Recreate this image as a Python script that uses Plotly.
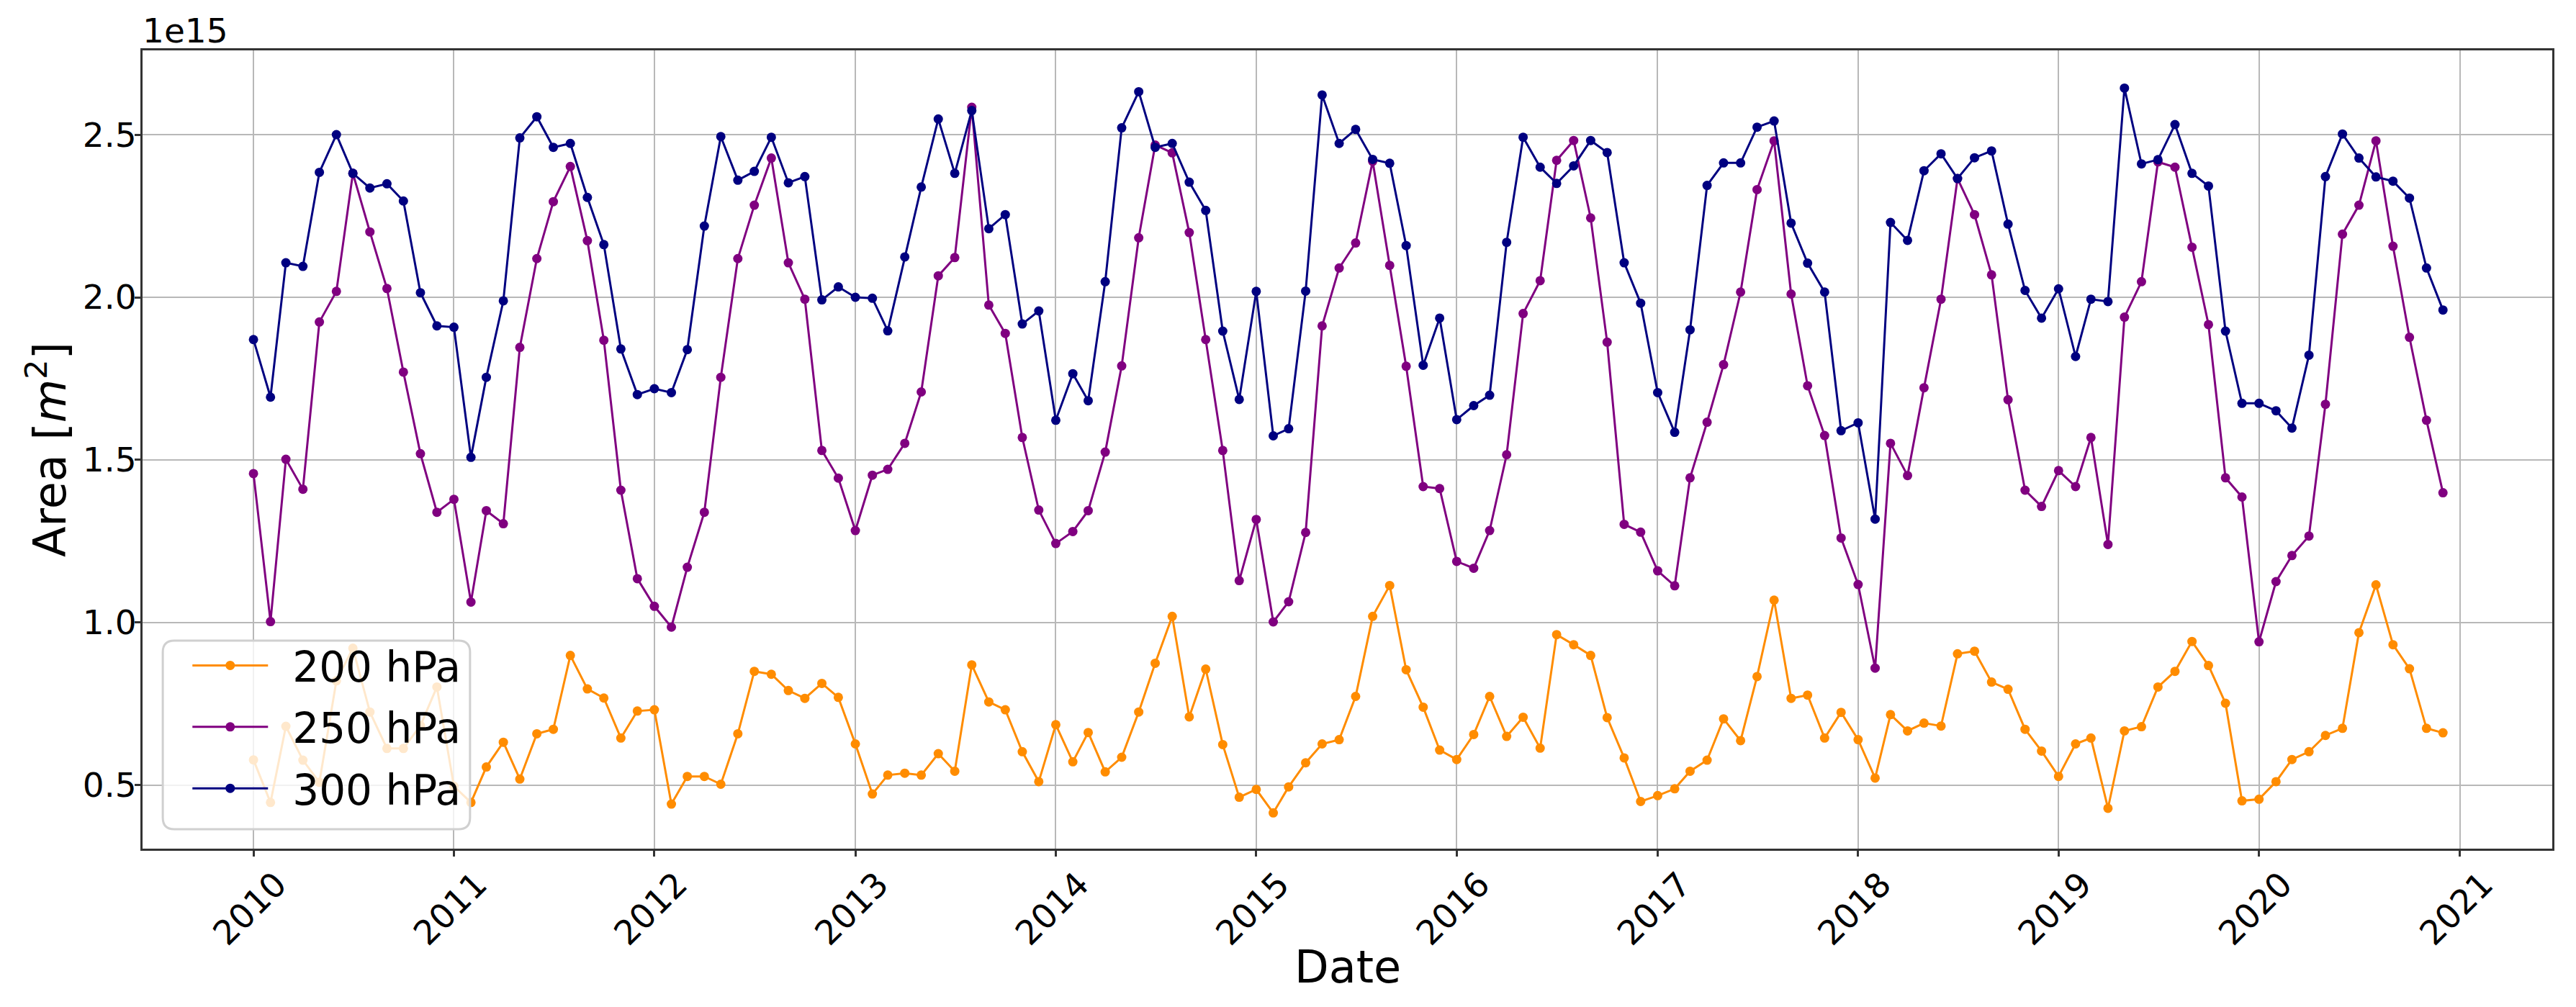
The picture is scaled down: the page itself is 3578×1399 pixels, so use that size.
import pandas as pd
import plotly.graph_objects as go

# monthly values, Jan 2010 .. Dec 2020, in units of 1e15 m^2
months = pd.date_range("2010-01-01", periods=132, freq="MS")

area_200 = [
    0.578, 0.447, 0.681, 0.577, 0.509, 0.821, 0.921, 0.725, 0.613, 0.613, 0.683, 0.802,
    0.497, 0.447, 0.556, 0.632, 0.519, 0.658, 0.672, 0.899, 0.796, 0.768, 0.645, 0.728,
    0.732, 0.442, 0.527, 0.527, 0.503, 0.658, 0.850, 0.841, 0.791, 0.767, 0.813, 0.770,
    0.627, 0.473, 0.531, 0.537, 0.531, 0.597, 0.543, 0.870, 0.756, 0.732, 0.603, 0.511,
    0.686, 0.572, 0.662, 0.541, 0.586, 0.725, 0.875, 1.019, 0.710, 0.857, 0.625, 0.463,
    0.487, 0.415, 0.495, 0.569, 0.627, 0.640, 0.773, 1.019, 1.114, 0.855, 0.740, 0.608,
    0.579, 0.656, 0.773, 0.650, 0.709, 0.614, 0.963, 0.932, 0.899, 0.708, 0.584, 0.450,
    0.468, 0.489, 0.543, 0.577, 0.704, 0.637, 0.834, 1.069, 0.767, 0.777, 0.645, 0.724,
    0.640, 0.522, 0.717, 0.667, 0.691, 0.682, 0.904, 0.912, 0.817, 0.795, 0.672, 0.605,
    0.527, 0.627, 0.645, 0.429, 0.667, 0.680, 0.802, 0.850, 0.942, 0.868, 0.752, 0.452,
    0.457, 0.511, 0.579, 0.603, 0.653, 0.675, 0.969, 1.116, 0.932, 0.858, 0.675, 0.661,
]

area_250 = [
    1.458, 1.003, 1.502, 1.410, 1.924, 2.018, 2.381, 2.201, 2.027, 1.770, 1.519, 1.339,
    1.379, 1.063, 1.344, 1.304, 1.846, 2.119, 2.294, 2.402, 2.174, 1.868, 1.407, 1.135,
    1.050, 0.986, 1.170, 1.339, 1.754, 2.119, 2.283, 2.428, 2.106, 1.994, 1.529, 1.444,
    1.283, 1.453, 1.471, 1.551, 1.709, 2.066, 2.122, 2.584, 1.976, 1.889, 1.569, 1.346,
    1.243, 1.280, 1.344, 1.524, 1.789, 2.183, 2.468, 2.444, 2.199, 1.870, 1.529, 1.129,
    1.317, 1.002, 1.064, 1.277, 1.912, 2.090, 2.167, 2.418, 2.098, 1.788, 1.418, 1.412,
    1.188, 1.167, 1.283, 1.516, 1.950, 2.051, 2.421, 2.482, 2.244, 1.862, 1.302, 1.278,
    1.159, 1.113, 1.445, 1.616, 1.793, 2.016, 2.331, 2.481, 2.010, 1.728, 1.575, 1.260,
    1.117, 0.860, 1.551, 1.452, 1.722, 1.994, 2.365, 2.254, 2.069, 1.685, 1.407, 1.357,
    1.467, 1.418, 1.569, 1.240, 1.939, 2.048, 2.416, 2.400, 2.154, 1.916, 1.445, 1.386,
    0.941, 1.126, 1.206, 1.266, 1.671, 2.194, 2.283, 2.481, 2.157, 1.877, 1.622, 1.399,
]

area_300 = [
    1.870, 1.693, 2.106, 2.095, 2.384, 2.500, 2.381, 2.336, 2.349, 2.296, 2.014, 1.912,
    1.908, 1.508, 1.754, 1.989, 2.490, 2.555, 2.461, 2.473, 2.307, 2.162, 1.841, 1.701,
    1.719, 1.707, 1.839, 2.219, 2.494, 2.360, 2.387, 2.492, 2.352, 2.371, 1.992, 2.032,
    2.000, 1.997, 1.897, 2.124, 2.339, 2.548, 2.381, 2.574, 2.211, 2.254, 1.918, 1.958,
    1.622, 1.765, 1.682, 2.048, 2.521, 2.632, 2.461, 2.473, 2.354, 2.267, 1.896, 1.686,
    2.018, 1.574, 1.596, 2.019, 2.622, 2.473, 2.516, 2.424, 2.412, 2.159, 1.791, 1.936,
    1.624, 1.667, 1.699, 2.169, 2.492, 2.400, 2.350, 2.404, 2.482, 2.445, 2.106, 1.982,
    1.707, 1.585, 1.900, 2.344, 2.413, 2.413, 2.523, 2.542, 2.228, 2.105, 2.016, 1.590,
    1.614, 1.318, 2.230, 2.175, 2.389, 2.441, 2.365, 2.429, 2.450, 2.225, 2.021, 1.936,
    2.026, 1.818, 1.994, 1.987, 2.643, 2.410, 2.423, 2.531, 2.381, 2.342, 1.896, 1.674,
    1.674, 1.651, 1.598, 1.822, 2.371, 2.502, 2.428, 2.370, 2.357, 2.305, 2.090, 1.961,
]

series = [
    ("200 hPa", area_200, "darkorange"),
    ("250 hPa", area_250, "purple"),
    ("300 hPa", area_300, "navy"),
]

fig = go.Figure()
for name, vals, col in series:
    fig.add_trace(go.Scatter(
        x=months, y=vals, name="\u2002" + name, legendgroup=name,
        mode="lines+markers",
        line=dict(color=col, width=3),
        marker=dict(color=col, size=13),
    ))

font = "DejaVu Sans"

# the page body adds 8px on the left/top, so the figure is 8px smaller
fig.update_layout(
    width=3570, height=1391,
    margin=dict(l=190, r=33, t=62, b=220),
    plot_bgcolor="white", paper_bgcolor="white",
    font=dict(family=font, size=47, color="black"),
    showlegend=True,
    legend=dict(
        x=0.0192, y=0.035, xanchor="left", yanchor="bottom",
        bgcolor="rgba(0,0,0,0)", borderwidth=0,
        font=dict(family=font, size=58), itemwidth=105, tracegroupgap=7,
    ),
)

# rounded, semi-transparent legend frame (matplotlib style)
x0, x1, y0, y1 = 0.0084, 0.1359, 0.0243, 0.2606
rx, ry = 16 / 3347, 16 / 1109
frame = (
    f"M {x0 + rx},{y0} L {x1 - rx},{y0} Q {x1},{y0} {x1},{y0 + ry} "
    f"L {x1},{y1 - ry} Q {x1},{y1} {x1 - rx},{y1} "
    f"L {x0 + rx},{y1} Q {x0},{y1} {x0},{y1 - ry} "
    f"L {x0},{y0 + ry} Q {x0},{y0} {x0 + rx},{y0} Z"
)
fig.add_shape(
    type="path", path=frame, xref="paper", yref="paper", layer="above",
    fillcolor="rgba(255,255,255,0.8)", line=dict(color="#d0d0d0", width=3),
)

fig.update_xaxes(
    type="date", range=["2009-06-13", "2021-06-18"],
    tick0="2010-01-01", dtick="M12", tickformat="%Y",
    tickangle=-45, ticks="outside", ticklen=8, tickwidth=3, tickcolor="#333",
    ticklabelshift=32, ticklabelstandoff=-8,
    showgrid=True, gridcolor="#b8b8b8", gridwidth=2,
    showline=True, linecolor="#333", linewidth=3, mirror=True,
    zeroline=False, automargin=False,
)

fig.update_yaxes(
    range=[0.305, 2.759], tickvals=[0.5, 1.0, 1.5, 2.0, 2.5], tickformat=".1f",
    ticks="outside", ticklen=8, tickwidth=3, tickcolor="#333",
    ticklabelstandoff=-12,
    showgrid=True, gridcolor="#b8b8b8", gridwidth=2,
    showline=True, linecolor="#333", linewidth=3, mirror=True,
    zeroline=False, automargin=False,
    title=dict(text="Area [<i>m</i><sup>2</sup>]", font=dict(size=62), standoff=4),
)

# x axis label, placed closer to the rotated ticks than plotly's title allows
fig.add_annotation(
    text="Date", x=0.5, y=-0.148, xref="paper", yref="paper",
    xanchor="center", yanchor="middle", showarrow=False,
    font=dict(size=62),
)

# offset text of the y axis
fig.add_annotation(
    text="1e15", x=0, y=1, xref="paper", yref="paper",
    xanchor="left", yanchor="bottom", showarrow=False,
    font=dict(size=47), xshift=-2, yshift=-2,
)

fig.write_html("out.html")
